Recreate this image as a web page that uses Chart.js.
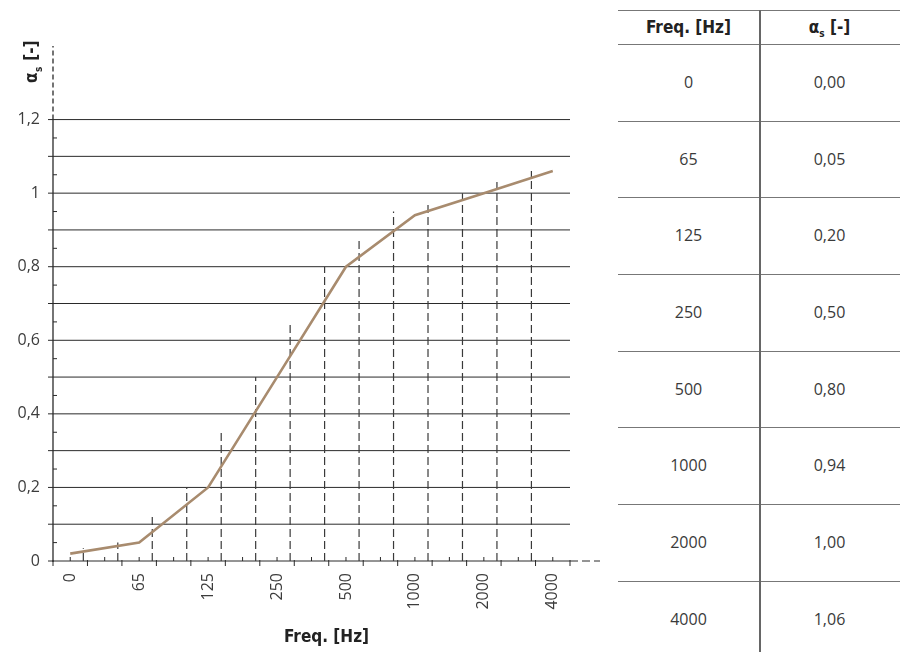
<!DOCTYPE html>
<html>
<head>
<meta charset="utf-8">
<title>Absorption coefficient</title>
<script src="https://cdn.jsdelivr.net/npm/chart.js@4"></script>
<style>
html, body { margin: 0; padding: 0; background: #fff; }
#wrap { position: relative; width: 904px; height: 652px; overflow: hidden; }
#c { position: absolute; left: 0; top: 0; }
#tbl { position: absolute; left: 618px; top: 10px; width: 282px; border-top: 1.5px solid #777;
       font-family: "Open Sans", sans-serif; font-size: 16px; color: #3a3a3a; }
#tbl .row { display: flex; box-sizing: border-box; border-bottom: 1.5px solid #777; }
#tbl .row:last-child { border-bottom: none; }
#tbl .cell { width: 141px; text-align: center; }
#tbl .head { height: 34px; line-height: 32px; font-family: "Liberation Sans Narrow", "DejaVu Sans Condensed", sans-serif;
             font-weight: bold; font-size: 17px; color: #222; }
#tbl .body { height: 76.67px; line-height: 75px; }
#tbl sub { font-size: 10px; vertical-align: -4px; }
#vline { position: absolute; left: 759px; top: 10px; width: 1.5px; height: 660px; background: #666; }
</style>
</head>
<body>
<div id="wrap">
  <canvas id="c" width="600" height="652"></canvas>
  <div id="tbl">
    <div class="row head"><div class="cell">Freq. [Hz]</div><div class="cell">α<sub>s</sub> [-]</div></div>
  </div>
  <div id="vline"></div>
</div>
<script>
// octave band centre frequencies and the absorption curve
const freqLabels = ["0", "65", "125", "250", "500", "1000", "2000", "4000"];
const alphaLine = [0.02, 0.05, 0.20, 0.50, 0.80, 0.94, 1.00, 1.06];
const alphaTable = [0.00, 0.05, 0.20, 0.50, 0.80, 0.94, 1.00, 1.06];
// heights of the dashed intermediate band lines
const bandHeights = [0.035, 0.05, 0.125, 0.20, 0.355, 0.50, 0.65, 0.80, 0.875, 0.95, 0.975, 1.00, 1.03, 1.06];
const yTickValues = [0, 0.2, 0.4, 0.6, 0.8, 1, 1.2];

// table on the right
const tbl = document.getElementById("tbl");
freqLabels.forEach((f, i) => {
  const row = document.createElement("div");
  row.className = "row body";
  row.innerHTML = '<div class="cell">' + f + '</div><div class="cell">' +
    alphaTable[i].toFixed(2).replace(".", ",") + '</div>';
  tbl.appendChild(row);
});

const tickFont = { family: "'Open Sans', sans-serif", size: 16 };
const boldFamily = "'Liberation Sans Narrow', 'DejaVu Sans Condensed', sans-serif";

const axesPlugin = {
  id: "axes",
  beforeDatasetsDraw(chart) {
    const ctx = chart.ctx, a = chart.chartArea;
    const xs = chart.scales.x, ys = chart.scales.y;
    const xEnd = xs.getPixelForValue(15);
    const y0 = ys.getPixelForValue(0);
    const yTop = ys.getPixelForValue(1.2);
    ctx.save();
    // horizontal grid every 0.1
    ctx.strokeStyle = "#2a2a2a";
    ctx.lineWidth = 1;
    for (let k = 1; k <= 12; k++) {
      const y = ys.getPixelForValue(k / 10);
      ctx.beginPath(); ctx.moveTo(a.left - 5, y); ctx.lineTo(xEnd, y); ctx.stroke();
    }
    // minor y ticks
    for (let k = 0; k < 12; k++) {
      const y = ys.getPixelForValue(k / 10 + 0.05);
      ctx.beginPath(); ctx.moveTo(a.left, y); ctx.lineTo(a.left + 4, y); ctx.stroke();
    }
    // x axis
    ctx.beginPath(); ctx.moveTo(a.left - 5, y0); ctx.lineTo(xEnd, y0); ctx.stroke();
    ctx.setLineDash([8, 4]);
    ctx.beginPath(); ctx.moveTo(xEnd, y0); ctx.lineTo(a.right, y0); ctx.stroke();
    ctx.setLineDash([]);
    for (let k = 0; k <= 15; k++) {
      const x = xs.getPixelForValue(k);
      ctx.beginPath(); ctx.moveTo(x, y0 - 1); ctx.lineTo(x, y0 + 5); ctx.stroke();
      if (k < 15) {
        const xm = xs.getPixelForValue(k + 0.5);
        ctx.beginPath(); ctx.moveTo(xm, y0 - 4); ctx.lineTo(xm, y0); ctx.stroke();
      }
    }
    // y axis
    ctx.lineWidth = 1.3;
    ctx.beginPath(); ctx.moveTo(a.left, y0 + 1); ctx.lineTo(a.left, yTop); ctx.stroke();
    ctx.setLineDash([5, 3]);
    ctx.beginPath(); ctx.moveTo(a.left, yTop); ctx.lineTo(a.left, a.top); ctx.stroke();
    ctx.restore();
  },
  afterDraw(chart) {
    // y axis title: alpha with subscript s
    const ctx = chart.ctx;
    ctx.save();
    ctx.translate(37, 83);
    ctx.rotate(-Math.PI / 2);
    ctx.fillStyle = "#222";
    ctx.textBaseline = "alphabetic";
    ctx.font = "bold 17px " + boldFamily;
    ctx.fillText("α", 0, 0);
    let w = ctx.measureText("α").width;
    ctx.font = "bold 10px " + boldFamily;
    ctx.fillText("s", w + 0.5, 5);
    w += ctx.measureText("s").width + 1;
    ctx.font = "bold 17px " + boldFamily;
    ctx.fillText(" [-]", w, 0);
    ctx.restore();
  }
};

new Chart(document.getElementById("c"), {
  type: "line",
  data: {
    datasets: [{
        label: "alpha",
        data: alphaLine.map((v, i) => ({ x: 0.5 + 2 * i, y: v })),
        borderColor: "#a88b6e",
        borderWidth: 2.6,
        pointRadius: 0,
        tension: 0
      }, {
        label: "bands",
        data: bandHeights.flatMap((v, i) => [
          { x: i + 0.88, y: 0 }, { x: i + 0.88, y: v }, { x: i + 0.88, y: null }
        ]),
        borderColor: "#3a3a3a",
        borderWidth: 1.2,
        borderDash: [8, 4],
        pointRadius: 0,
        spanGaps: false
      }
    ]
  },
  options: {
    responsive: false,
    animation: false,
    devicePixelRatio: 1,
    layout: { padding: { top: 46, right: 0, left: 0, bottom: 0 } },
    plugins: { legend: { display: false }, tooltip: { enabled: false } },
    scales: {
      x: {
        type: "linear", min: 0, max: 15.87,
        afterBuildTicks: s => { s.ticks = freqLabels.map((_, i) => ({ value: 0.5 + 2 * i })); },
        afterFit: s => { s.height = 91; },
        ticks: {
          callback: (v, i) => freqLabels[i],
          minRotation: 90, maxRotation: 90, autoSkip: false,
          padding: 12, font: tickFont, color: "#3c3c3c"
        },
        grid: { display: false, drawTicks: false },
        border: { display: false },
        title: {
          display: true, text: "Freq. [Hz]", color: "#222",
          font: { family: boldFamily, size: 17, weight: "bold" },
          padding: { top: 0, bottom: 4 }
        }
      },
      y: {
        type: "linear", min: 0, max: 1.4,
        afterBuildTicks: s => { s.ticks = yTickValues.map(v => ({ value: v })); },
        afterFit: s => { s.width = 53; },
        ticks: {
          callback: v => v === 0 ? "0" : (v === 1 ? "1" : v.toFixed(1).replace(".", ",")),
          padding: 13, font: tickFont, color: "#3c3c3c"
        },
        grid: { display: false, drawTicks: false },
        border: { display: false }
      }
    }
  },
  plugins: [axesPlugin]
});
</script>
</body>
</html>
